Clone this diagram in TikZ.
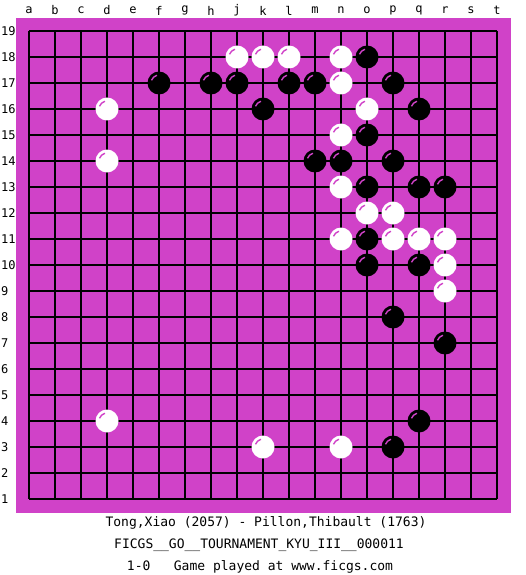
\documentclass[tikz,border=0pt]{standalone}
\usepackage{fontspec}
\setmonofont{DejaVu Sans Mono}
\definecolor{goboard}{RGB}{208,66,200}

\tikzset{
  gridline/.style={black,line width=1.1pt},
  coordlabel/.style={font=\ttfamily\fontsize{12}{12}\selectfont,inner sep=0pt},
  infoline/.style={font=\ttfamily\fontsize{13}{14}\selectfont,inner sep=0pt},
  glint/.style={goboard,line width=1.4pt}
}

\begin{document}
\begin{tikzpicture}[x=1pt,y=-1pt]
  \useasboundingbox (0,0) rectangle (525,575);
  \fill[goboard] (16,18) rectangle (511,513);
  % grid and intersections
  \foreach \l [count=\i from 0] in {a,b,c,d,e,f,g,h,j,k,l,m,n,o,p,q,r,s,t} {
    \draw[gridline] (29+26*\i,31) -- (29+26*\i,499);
    \draw[gridline] (29,31+26*\i) -- (497,31+26*\i);
    \node[coordlabel] (col-\l) at (29+26*\i,10.5) {\l};
    \foreach \r in {1,...,19}
      \coordinate (\l\r) at (29+26*\i,31+26*19-26*\r);
  }
  \foreach \r in {1,...,19}
    \node[coordlabel,anchor=west] (row-\r) at (1,31+26*19-26*\r) {\r};
  % black stones
  \foreach \s in {o18,f17,h17,j17,l17,m17,p17,k16,q16,o15,m14,n14,p14,
                  o13,q13,r13,o11,o10,q10,p8,r7,q4,p3} {
    \fill[black] (\s) circle (11.5);
    \draw[glint] (\s) ++(-7.5,-2.7) arc[start angle=160,end angle=105,radius=8pt];
  }
  % white stones
  \foreach \s in {j18,k18,l18,n18,n17,d16,o16,n15,d14,n13,o12,p12,
                  n11,p11,q11,r11,r10,r9,d4,k3,n3} {
    \fill[white] (\s) circle (11.5);
    \draw[glint] (\s) ++(-7.5,-2.7) arc[start angle=160,end angle=105,radius=8pt];
  }
  % game info
  \node[infoline] (players) at (266,523) {Tong,Xiao (2057) - Pillon,Thibault (1763)};
  \node[infoline] (event) at (259,545) {FICGS\_\_GO\_\_TOURNAMENT\_KYU\_III\_\_000011};
  \node[infoline] (result) at (260,567) {1-0\ \ \ Game played at www.ficgs.com};
\end{tikzpicture}
\end{document}
